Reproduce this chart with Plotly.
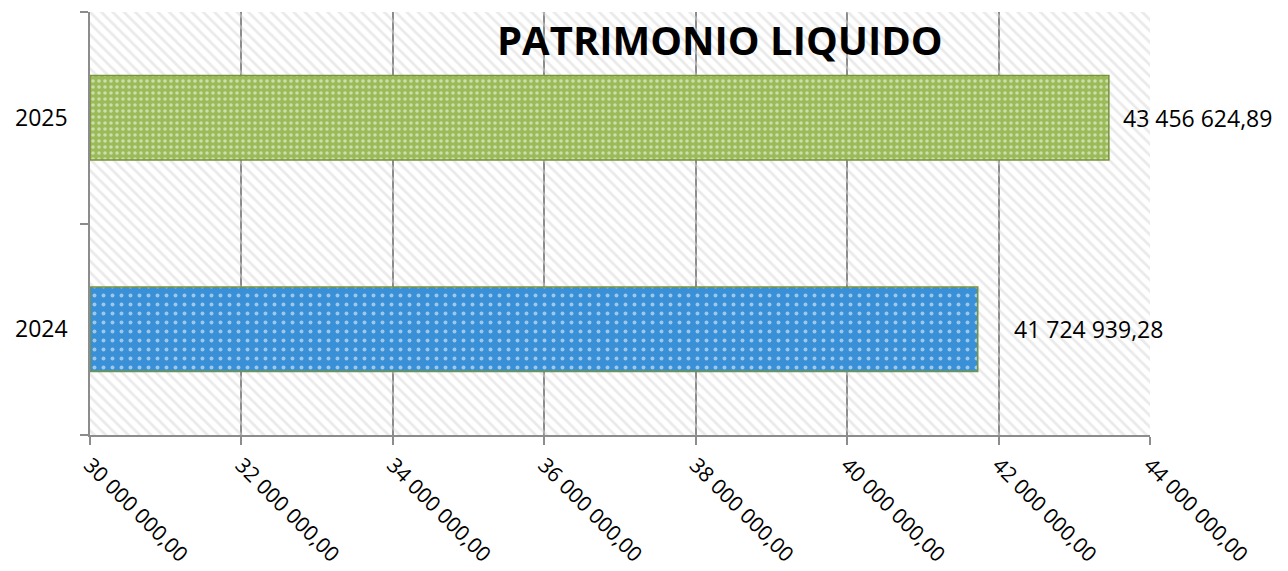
import plotly.graph_objects as go

# Net equity by year
years = ["2024", "2025"]
values = [41724939.28, 43456624.89]
value_labels = ["41 724 939,28", "43 456 624,89"]
bar_colors = ["#3A90D6", "#9BBB59"]
label_shift = [34, 12]

x_min, x_max = 30000000, 44000000
tick_vals = [30000000, 32000000, 34000000, 36000000, 38000000, 40000000, 42000000, 44000000]
tick_text = ["30 000 000,00", "32 000 000,00", "34 000 000,00", "36 000 000,00",
             "38 000 000,00", "40 000 000,00", "42 000 000,00", "44 000 000,00"]

FONT = "Open Sans"
GRID = "#8C8C8C"

fig = go.Figure()

# Hatched plot-area background (drawn on the hidden numeric y axis)
fig.add_trace(go.Scatter(
    x=[x_min, x_max, x_max, x_min, x_min],
    y=[0, 0, 1, 1, 0],
    mode="lines", line=dict(width=0),
    fill="toself", fillcolor="rgba(0,0,0,0)",
    fillpattern=dict(shape="\\", fgcolor="#D6D6D6", bgcolor="rgba(0,0,0,0)",
                     size=8, solidity=0.35),
    hoverinfo="skip", showlegend=False,
    xaxis="x", yaxis="y",
))

# One bar per year, each with its own dotted fill
dot_size = [9, 6]
dot_solid = [0.15, 0.28]
for yr, v, c, ds, so in zip(years, values, bar_colors, dot_size, dot_solid):
    fig.add_trace(go.Bar(
        x=[v - x_min], base=x_min, y=[yr], orientation="h",
        width=0.4,
        marker=dict(color=c, line=dict(color="#77933C", width=1.5),
                    pattern=dict(shape=".", fgcolor="white", bgcolor=c,
                                 size=ds, solidity=so)),
        showlegend=False, xaxis="x", yaxis="y2",
    ))

# Value labels beside the bars
annotations = []
for i, (v, txt, sh) in enumerate(zip(values, value_labels, label_shift)):
    annotations.append(dict(
        x=v, y=i, xref="x", yref="y2", text=txt, showarrow=False,
        xanchor="left", yanchor="middle", xshift=sh,
        font=dict(family=FONT, size=23, color="black"),
    ))

annotations.append(dict(
    x=0.594, y=0.935, xref="paper", yref="paper",
    text="<b>PATRIMONIO LIQUIDO</b>", showarrow=False,
    xanchor="center", yanchor="middle",
    font=dict(family=FONT, size=40, color="black"),
))

fig.update_layout(
    width=1288, height=571,
    margin=dict(l=90, r=138, t=12, b=136, autoexpand=False),
    paper_bgcolor="white", plot_bgcolor="white",
    barmode="overlay",
    xaxis=dict(
        range=[x_min, x_max], tickvals=tick_vals, ticktext=tick_text,
        tickangle=45, ticks="outside", ticklen=8, tickcolor=GRID, tickwidth=1.5,
        showline=True, linecolor=GRID, linewidth=1.5,
        showgrid=True, gridcolor=GRID, gridwidth=1.5,
        zeroline=False, automargin=False,
        tickfont=dict(family=FONT, size=21, color="black"),
    ),
    yaxis=dict(range=[0, 1], visible=False, fixedrange=True),
    yaxis2=dict(
        overlaying="y", side="left", type="category",
        categoryorder="array", categoryarray=years,
        range=[-0.5, 1.5], automargin=False,
        ticks="outside", tickson="boundaries", ticklen=8,
        tickcolor=GRID, tickwidth=1.5, ticklabelstandoff=16,
        showline=True, linecolor=GRID, linewidth=1.5,
        showgrid=False, zeroline=False,
        tickfont=dict(family=FONT, size=23, color="black"),
    ),
    annotations=annotations,
)

fig.write_html("out.html")
